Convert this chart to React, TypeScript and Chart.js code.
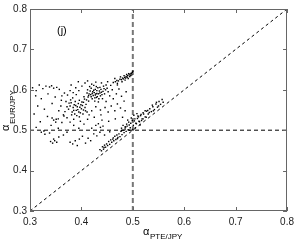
import { useEffect, useRef } from "react";
import { Chart, registerables } from "chart.js";
Chart.register(...registerables);

const tickValues = [0.3, 0.4, 0.5, 0.6, 0.7, 0.8];
const axisMin = 0.3;
const axisMax = 0.8;
const refX = 0.5;
const refY = 0.5;

const leftSparse: [number, number][] = [
  [0.305, 0.605], [0.312, 0.598], [0.318, 0.612], [0.325, 0.603], [0.331, 0.609], [0.338, 0.607],
  [0.342, 0.61], [0.346, 0.604], [0.352, 0.606], [0.357, 0.601], [0.311, 0.585], [0.322, 0.578],
  [0.335, 0.59], [0.349, 0.582], [0.361, 0.574], [0.315, 0.56], [0.328, 0.552], [0.343, 0.566],
  [0.356, 0.548], [0.308, 0.54], [0.334, 0.534], [0.351, 0.527], [0.32, 0.521], [0.341, 0.512],
  [0.362, 0.519], [0.312, 0.507], [0.327, 0.498], [0.338, 0.493], [0.355, 0.505], [0.366, 0.535],
];

const coreA: [number, number][] = [
  [0.41, 0.575], [0.413, 0.582], [0.415, 0.59], [0.417, 0.597], [0.419, 0.604], [0.421, 0.578],
  [0.423, 0.586], [0.425, 0.593], [0.427, 0.601], [0.429, 0.608], [0.431, 0.583], [0.433, 0.59],
  [0.435, 0.597], [0.437, 0.585], [0.439, 0.594], [0.412, 0.6], [0.414, 0.572], [0.418, 0.588],
  [0.422, 0.595], [0.424, 0.611], [0.426, 0.58], [0.428, 0.59], [0.43, 0.598], [0.432, 0.605],
  [0.434, 0.578], [0.436, 0.606], [0.438, 0.601], [0.44, 0.588], [0.442, 0.596], [0.444, 0.603],
  [0.416, 0.608], [0.42, 0.614], [0.411, 0.592], [0.426, 0.572], [0.433, 0.57], [0.441, 0.578],
  [0.445, 0.59], [0.447, 0.6], [0.419, 0.583], [0.427, 0.587], [0.424, 0.599], [0.43, 0.591],
  [0.436, 0.592], [0.421, 0.591], [0.414, 0.586], [0.429, 0.581], [0.443, 0.609], [0.448, 0.612],
  [0.45, 0.604], [0.452, 0.595],
];

const coreB: [number, number][] = [
  [0.375, 0.552], [0.378, 0.56], [0.38, 0.568], [0.382, 0.545], [0.384, 0.556], [0.386, 0.563],
  [0.388, 0.571], [0.39, 0.549], [0.392, 0.558], [0.394, 0.566], [0.396, 0.574], [0.398, 0.543],
  [0.4, 0.553], [0.402, 0.561], [0.404, 0.569], [0.406, 0.577], [0.408, 0.548], [0.379, 0.575],
  [0.383, 0.58], [0.387, 0.54], [0.391, 0.536], [0.395, 0.545], [0.399, 0.563], [0.403, 0.54],
  [0.407, 0.556], [0.385, 0.549], [0.389, 0.561], [0.393, 0.551], [0.397, 0.557], [0.401, 0.57],
  [0.405, 0.583], [0.409, 0.564], [0.376, 0.567], [0.381, 0.538], [0.372, 0.558], [0.37, 0.571],
  [0.368, 0.546], [0.396, 0.533], [0.411, 0.545], [0.404, 0.55],
];

const halo: [number, number][] = [
  [0.362, 0.585], [0.367, 0.592], [0.373, 0.587], [0.378, 0.598], [0.384, 0.593], [0.389, 0.605],
  [0.395, 0.598], [0.401, 0.609], [0.407, 0.617], [0.412, 0.622], [0.428, 0.619], [0.439, 0.617],
  [0.451, 0.62], [0.457, 0.611], [0.46, 0.6], [0.455, 0.585], [0.462, 0.578], [0.468, 0.59],
  [0.473, 0.602], [0.478, 0.584], [0.483, 0.572], [0.487, 0.595], [0.47, 0.565], [0.458, 0.56],
  [0.448, 0.571], [0.446, 0.556], [0.437, 0.55], [0.428, 0.558], [0.42, 0.548], [0.415, 0.538],
  [0.425, 0.532], [0.438, 0.538], [0.452, 0.545], [0.465, 0.548], [0.476, 0.555], [0.485, 0.548],
  [0.48, 0.532], [0.466, 0.528], [0.453, 0.522], [0.44, 0.525], [0.412, 0.527], [0.398, 0.522],
  [0.385, 0.527], [0.372, 0.531], [0.365, 0.538], [0.36, 0.56], [0.39, 0.588], [0.38, 0.612],
  [0.394, 0.62], [0.47, 0.612],
];

const upperStreak: [number, number][] = [
  [0.462, 0.618], [0.466, 0.62], [0.469, 0.623], [0.472, 0.622], [0.475, 0.626], [0.478, 0.625],
  [0.48, 0.629], [0.482, 0.627], [0.484, 0.631], [0.486, 0.629], [0.487, 0.633], [0.489, 0.631],
  [0.49, 0.635], [0.491, 0.628], [0.493, 0.637], [0.494, 0.633], [0.495, 0.639], [0.496, 0.635],
  [0.497, 0.641], [0.498, 0.637], [0.499, 0.643], [0.483, 0.635], [0.488, 0.638], [0.492, 0.64],
  [0.476, 0.632], [0.47, 0.616], [0.485, 0.624], [0.5, 0.646], [0.479, 0.62], [0.465, 0.628],
];

const band: [number, number][] = [
  [0.436, 0.452], [0.439, 0.449], [0.441, 0.459], [0.443, 0.453], [0.445, 0.463], [0.447, 0.458],
  [0.449, 0.466], [0.451, 0.462], [0.453, 0.472], [0.455, 0.465], [0.457, 0.476], [0.459, 0.47],
  [0.461, 0.478], [0.463, 0.474], [0.465, 0.485], [0.467, 0.477], [0.469, 0.488], [0.471, 0.482],
  [0.473, 0.491], [0.475, 0.484], [0.477, 0.497], [0.479, 0.489], [0.481, 0.5], [0.483, 0.494],
  [0.485, 0.503], [0.487, 0.497], [0.489, 0.51], [0.491, 0.501], [0.493, 0.513], [0.495, 0.506],
  [0.503, 0.523], [0.506, 0.517], [0.509, 0.529], [0.512, 0.522], [0.515, 0.536], [0.518, 0.528],
  [0.521, 0.54], [0.524, 0.533], [0.527, 0.547], [0.53, 0.54], [0.533, 0.553], [0.536, 0.546],
  [0.539, 0.558], [0.542, 0.551], [0.545, 0.565], [0.548, 0.557], [0.551, 0.571], [0.554, 0.564],
  [0.557, 0.576], [0.559, 0.569], [0.546, 0.569], [0.538, 0.562], [0.529, 0.549], [0.52, 0.543],
  [0.511, 0.533], [0.462, 0.481], [0.47, 0.479], [0.478, 0.499], [0.486, 0.508], [0.532, 0.544],
  [0.54, 0.548], [0.55, 0.56], [0.444, 0.457],
];

const centreBlob: [number, number][] = [
  [0.488, 0.515], [0.492, 0.52], [0.496, 0.517], [0.499, 0.524], [0.501, 0.512], [0.504, 0.528],
  [0.507, 0.516], [0.51, 0.535], [0.513, 0.521], [0.516, 0.539], [0.497, 0.53], [0.502, 0.537],
  [0.508, 0.541], [0.485, 0.508], [0.49, 0.525], [0.494, 0.5], [0.505, 0.506], [0.514, 0.513],
  [0.52, 0.528], [0.524, 0.548], [0.481, 0.512], [0.478, 0.505], [0.5, 0.502], [0.517, 0.524],
  [0.526, 0.532],
];

const lowerScatter: [number, number][] = [
  [0.34, 0.472], [0.344, 0.468], [0.348, 0.474], [0.352, 0.47], [0.346, 0.478], [0.322, 0.495],
  [0.329, 0.49], [0.378, 0.47], [0.383, 0.466], [0.388, 0.474], [0.392, 0.462], [0.396, 0.478],
  [0.402, 0.485], [0.408, 0.468], [0.413, 0.48], [0.418, 0.474], [0.424, 0.491], [0.43, 0.486],
  [0.365, 0.488], [0.372, 0.495], [0.356, 0.483], [0.436, 0.495], [0.445, 0.488], [0.455, 0.496],
  [0.42, 0.505], [0.428, 0.512], [0.433, 0.516], [0.442, 0.51], [0.437, 0.507], [0.395, 0.505],
  [0.405, 0.515], [0.385, 0.512], [0.378, 0.52], [0.346, 0.525], [0.35, 0.52], [0.343, 0.53],
  [0.355, 0.528],
];

const FONT = '"Liberation Sans", Arial, sans-serif';

const decorPlugin = {
  id: "decor",
  afterDraw(chart: any) {
    const { ctx, chartArea } = chart;
    const { left, right, top, bottom } = chartArea;
    const xs = chart.scales.x;
    const ys = chart.scales.y;
    ctx.save();
    ctx.strokeStyle = "#666";
    ctx.lineWidth = 1;
    ctx.setLineDash([]);
    ctx.strokeRect(Math.round(left) + 0.5, Math.round(top) + 0.5, Math.round(right - left) - 1, Math.round(bottom - top) - 1);
    ctx.beginPath();
    tickValues.forEach((v) => {
      const px = Math.round(xs.getPixelForValue(v)) + 0.5;
      ctx.moveTo(px, bottom);
      ctx.lineTo(px, bottom - 4);
      ctx.moveTo(px, top);
      ctx.lineTo(px, top + 4);
      const py = Math.round(ys.getPixelForValue(v)) + 0.5;
      ctx.moveTo(left, py);
      ctx.lineTo(left + 4, py);
      ctx.moveTo(right, py);
      ctx.lineTo(right - 4, py);
    });
    ctx.stroke();

    ctx.fillStyle = "#000";
    ctx.textBaseline = "alphabetic";
    ctx.textAlign = "left";
    ctx.font = `11px ${FONT}`;
    ctx.fillText("(j)", 57, 34);

    ctx.font = `11px ${FONT}`;
    ctx.fillText("α", 143, 235);
    ctx.font = `8px ${FONT}`;
    ctx.fillText("PTE/JPY", 150, 239);

    ctx.translate(9, 131);
    ctx.rotate(-Math.PI / 2);
    ctx.font = `11px ${FONT}`;
    ctx.fillText("α", 0, 0);
    ctx.font = `8px ${FONT}`;
    ctx.fillText("EUR/JPY", 7, 6);
    ctx.restore();
  },
};

export default function App() {
  const ref = useRef<HTMLCanvasElement>(null);
  useEffect(() => {
    document.body.style.margin = "0";
    const toPts = (a: [number, number][]) => a.map(([x, y]) => ({ x, y }));
    const pts = toPts([
      ...leftSparse, ...coreA, ...coreB, ...halo, ...upperStreak, ...band, ...centreBlob, ...lowerScatter,
    ]);
    const tickOpts = {
      font: { family: FONT, size: 10 },
      color: "#222",
      autoSkip: false,
      maxRotation: 0,
      callback: (v: any) => Number(v).toFixed(1),
    };
    const chart = new Chart(ref.current as HTMLCanvasElement, {
      type: "scatter",
      data: {
        datasets: [
          {
            data: pts,
            pointStyle: "rect",
            pointRadius: 1.0,
            backgroundColor: "#000",
            borderWidth: 0,
          } as any,
          {
            type: "line",
            data: [{ x: axisMin, y: axisMin }, { x: axisMax, y: axisMax }],
            borderColor: "#000",
            borderWidth: 1,
            borderDash: [3, 3],
            pointRadius: 0,
            fill: false,
          } as any,
          {
            type: "line",
            data: [{ x: axisMin, y: refY }, { x: axisMax, y: refY }],
            borderColor: "#000",
            borderWidth: 1,
            borderDash: [4, 3],
            pointRadius: 0,
            fill: false,
          } as any,
          {
            type: "line",
            data: [{ x: refX, y: axisMin }, { x: refX, y: axisMax }],
            borderColor: "#777",
            borderWidth: 2,
            borderDash: [5, 3],
            pointRadius: 0,
            fill: false,
          } as any,
        ],
      },
      options: {
        responsive: false,
        animation: false,
        layout: { padding: { left: 0, top: 8, right: 10, bottom: 0 } },
        plugins: { legend: { display: false }, tooltip: { enabled: false } },
        scales: {
          x: {
            type: "linear",
            min: axisMin,
            max: axisMax,
            afterBuildTicks: (s: any) => { s.ticks = tickValues.map((v) => ({ value: v })); },
            afterFit: (s: any) => { s.height = 29; },
            grid: { display: false, drawTicks: false },
            border: { display: false },
            ticks: { ...tickOpts, padding: 5 },
          },
          y: {
            type: "linear",
            min: axisMin,
            max: axisMax,
            afterBuildTicks: (s: any) => { s.ticks = tickValues.map((v) => ({ value: v })); },
            afterFit: (s: any) => { s.width = 30; },
            grid: { display: false, drawTicks: false },
            border: { display: false },
            ticks: { ...tickOpts, padding: 3 },
          },
        },
      } as any,
      plugins: [decorPlugin],
    });
    return () => chart.destroy();
  }, []);
  return <canvas ref={ref} width={299} height={240} style={{ display: "block" }} />;
}
